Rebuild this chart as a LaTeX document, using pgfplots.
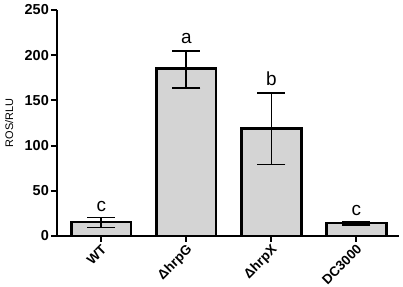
\documentclass[border=0pt]{standalone}
\usepackage{fontspec}
\setmainfont{Liberation Sans}
\usepackage{pgfplots}
\pgfplotsset{compat=1.18}
\usepackage{pgfplotstable}
\definecolor{barfill}{RGB}{212,212,212}
\pgfplotstableread{
x y ep em
0 15.5 5 6
1 185 20 21
2 119 39.5 40
3 14.5 1 2
}\datatable
\begin{document}
\begin{tikzpicture}
\begin{axis}[
  name=ax,
  scale only axis,
  width=342bp, height=226bp,
  xmin=-0.52, xmax=3.5,
  ymin=0, ymax=250,
  axis x line=bottom, axis y line=left,
  axis line style={-, line width=2bp},
  tick style={line width=2bp, black},
  tick align=outside,
  major tick length=6bp,
  xtick={0,1,2,3},
  xticklabels={WT,ΔhrpG,ΔhrpX,DC3000},
  ytick={0,50,100,150,200,250},
  /pgf/number format/assume math mode=true,
  yticklabel style={font=\bfseries\fontsize{14.5}{16}\selectfont, inner sep=1bp, xshift=-1bp},
  xticklabel style={font=\bfseries\fontsize{13.5}{15}\selectfont, rotate=45, anchor=north east, inner sep=1bp, xshift=-0.5bp, yshift=0.5bp},
  ylabel={ROS/RLU},
  ylabel style={font=\fontsize{11}{12}\selectfont, at={(axis description cs:-0.14,0.5)}, anchor=center},
  ybar, bar width=0.70,
  clip=false,
]
\addplot[fill=barfill, draw=black, line width=2.7bp,
  error bars/.cd, y dir=both, y explicit,
  error mark=|,
  error bar style={line width=1.7bp, black},
  error mark options={line width=1.7bp, black, mark size=14bp}]
  table[x=x, y=y, y error plus=ep, y error minus=em] {\datatable};
\node[anchor=base, font=\fontsize{19}{20}\selectfont] at (axis cs:0,27) {c};
\node[anchor=base, font=\fontsize{19}{20}\selectfont] at (axis cs:1,213) {a};
\node[anchor=base, font=\fontsize{19}{20}\selectfont] at (axis cs:2,166) {b};
\node[anchor=base, font=\fontsize{19}{20}\selectfont] at (axis cs:3,23) {c};
\end{axis}
\pgfresetboundingbox
\useasboundingbox ([shift={(-57bp,-51bp)}]ax.south west) rectangle ([shift={(4bp,10bp)}]ax.north east);
\end{tikzpicture}
\end{document}
